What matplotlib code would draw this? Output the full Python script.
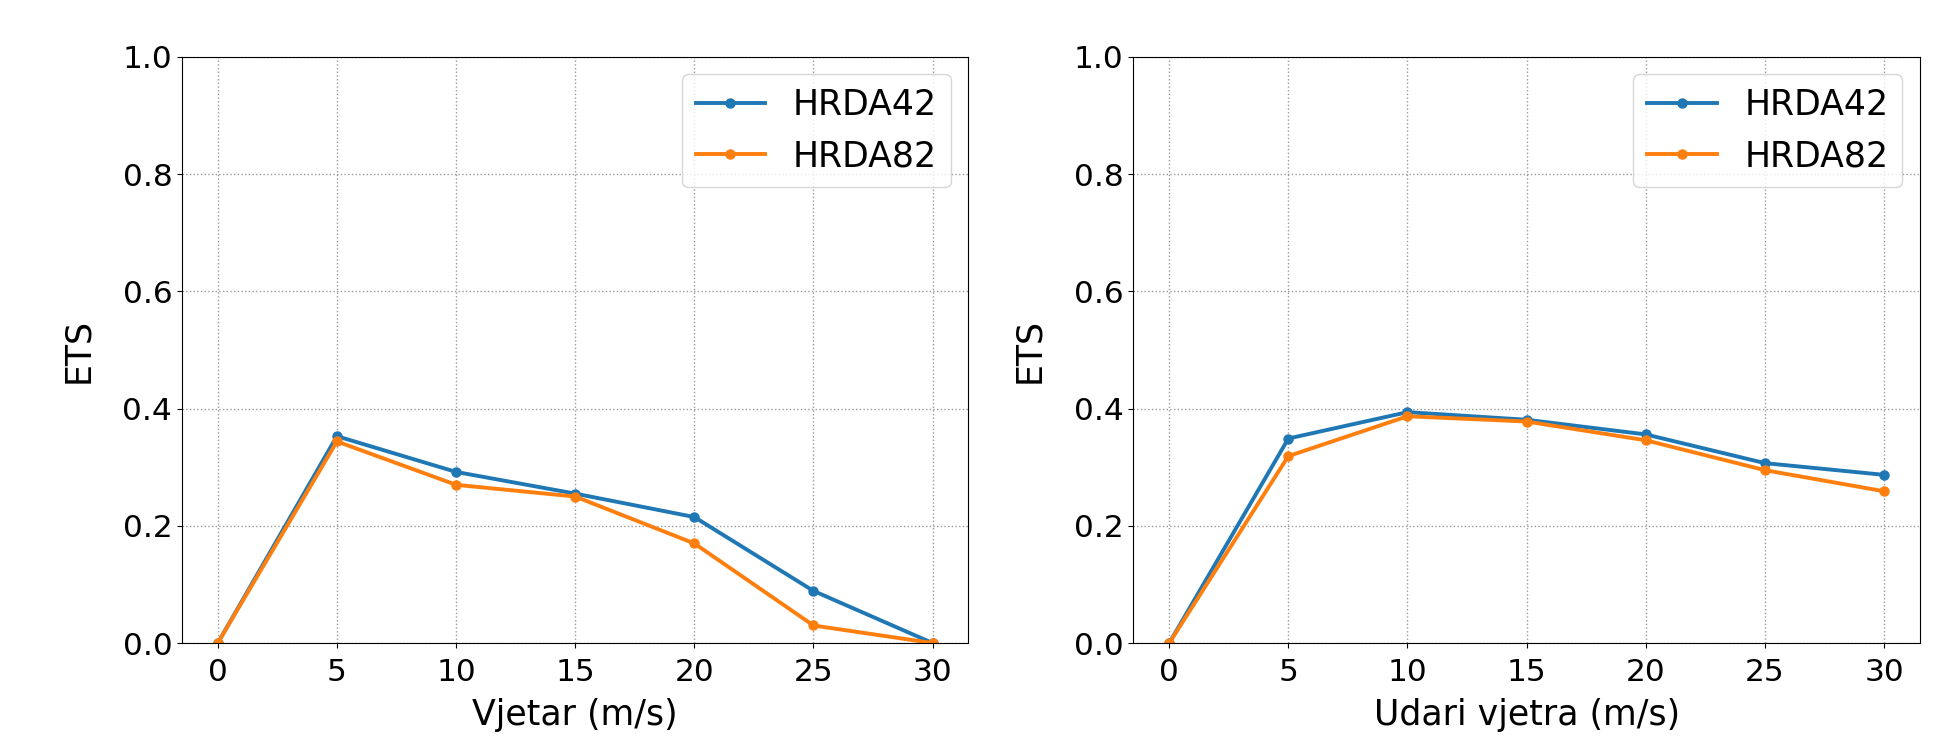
import matplotlib
matplotlib.use("Agg")
import matplotlib.pyplot as plt

x = [0, 5, 10, 15, 20, 25, 30]
series_names = ["HRDA42", "HRDA82"]
# Vjetar (m/s)
wind_hrda42 = [0.0, 0.353, 0.292, 0.255, 0.215, 0.089, 0.0]
wind_hrda82 = [0.0, 0.344, 0.270, 0.250, 0.170, 0.030, 0.0]
# Udari vjetra (m/s)
gust_hrda42 = [0.0, 0.349, 0.394, 0.381, 0.356, 0.307, 0.287]
gust_hrda82 = [0.0, 0.319, 0.387, 0.378, 0.346, 0.295, 0.259]
xlabels = ["Vjetar (m/s)", "Udari vjetra (m/s)"]

plt.rcParams["font.size"] = 22.5
fig, axes = plt.subplots(1, 2, figsize=(19.53, 7.4), dpi=100)
fig.subplots_adjust(left=0.0932, right=0.983, bottom=0.131, top=0.923, wspace=0.21)

for ax, (a, b), lab in zip(axes, [(wind_hrda42, wind_hrda82), (gust_hrda42, gust_hrda82)], xlabels):
    ax.plot(x, a, "-o", color="#1f77b4", lw=2.8, ms=6.5, label=series_names[0])
    ax.plot(x, b, "-o", color="#ff7f0e", lw=2.8, ms=6.5, label=series_names[1])
    ax.set_ylim(0, 1.0)
    ax.set_xticks(x)
    ax.tick_params(axis="x", pad=7)
    ax.set_xlabel(lab, fontsize=25, labelpad=8)
    ax.set_ylabel("ETS", fontsize=25, labelpad=20)
    ax.grid(True, linestyle=":", color="gray", alpha=0.8, lw=1)
    ax.legend(loc="upper right", fontsize=25)

fig.savefig("out.png", dpi=100)
